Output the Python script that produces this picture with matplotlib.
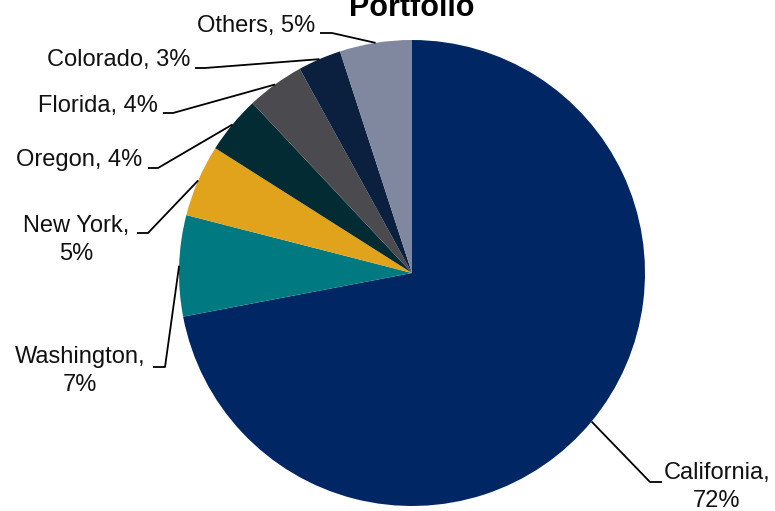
"""Portfolio breakdown by state, drawn as a pie with leader-line labels."""

import numpy as np
import matplotlib

matplotlib.use("Agg")
import matplotlib.pyplot as plt

plt.rcParams["font.family"] = ["Liberation Sans", "DejaVu Sans"]

# slice data, clockwise from 12 o'clock
states = ["California", "Washington", "New York", "Oregon", "Florida", "Colorado", "Others"]
shares = [72, 7, 5, 4, 4, 3, 5]
colors = ["#002663", "#007A80", "#E2A31C", "#022B33", "#4B4B4F", "#0B1F3E", "#8088A0"]
label_text = ["California,\n72%", "Washington,\n7%", "New York,\n5%", "Oregon, 4%",
              "Florida, 4%", "Colorado, 3%", "Others, 5%"]

W, H = 775, 511
CX, CY, R = 412, 273, 233

# label layout in pixel coords (y down): text anchor, alignment, elbow start/end
label_pos = [(717, 487, "center"), (80, 371, "center"), (76, 240, "center"),
             (142, 160, "right"), (158, 106, "right"), (190, 60, "right"), (315, 26, "right")]
elbows = [((662, 482), (650, 482)), ((153, 367), (165, 367)), ((137, 233), (148, 233)),
          ((148, 168), (158, 168)), ((163, 113), (173, 113)), ((195, 68), (205, 68)),
          ((320, 33), (332, 33))]


def px(x, y):
    return x, H - y


def main() -> None:
    fig = plt.figure(figsize=(W / 100, H / 100), dpi=100)
    ax = fig.add_axes([0, 0, 1, 1])

    wedges, _ = ax.pie(shares, colors=colors, startangle=90, counterclock=False,
                       center=px(CX, CY), radius=R, frame=True,
                       wedgeprops=dict(linewidth=0))
    ax.set_xlim(0, W)
    ax.set_ylim(0, H)
    ax.set_aspect("equal")
    ax.axis("off")

    for wedge, text, (tx, ty, ha), (e0, e1) in zip(wedges, label_text, label_pos, elbows):
        mid = np.deg2rad((wedge.theta1 + wedge.theta2) / 2)
        ax_x = CX + R * np.cos(mid)
        ax_y = CY - R * np.sin(mid)
        xs = [e0[0], e1[0], ax_x]
        ys = [H - e0[1], H - e1[1], H - ax_y]
        ax.plot(xs, ys, color="black", lw=1.3, solid_capstyle="butt")
        ax.text(*px(tx, ty), text, ha=ha, va="center", fontsize=17,
                color="#111111", linespacing=1.35, multialignment="center")

    ax.text(*px(412, 16), "Portfolio", ha="center", va="baseline",
            fontsize=22, fontweight="bold", color="black")

    fig.savefig("out.png", dpi=100)
    plt.close(fig)


if __name__ == "__main__":
    main()
